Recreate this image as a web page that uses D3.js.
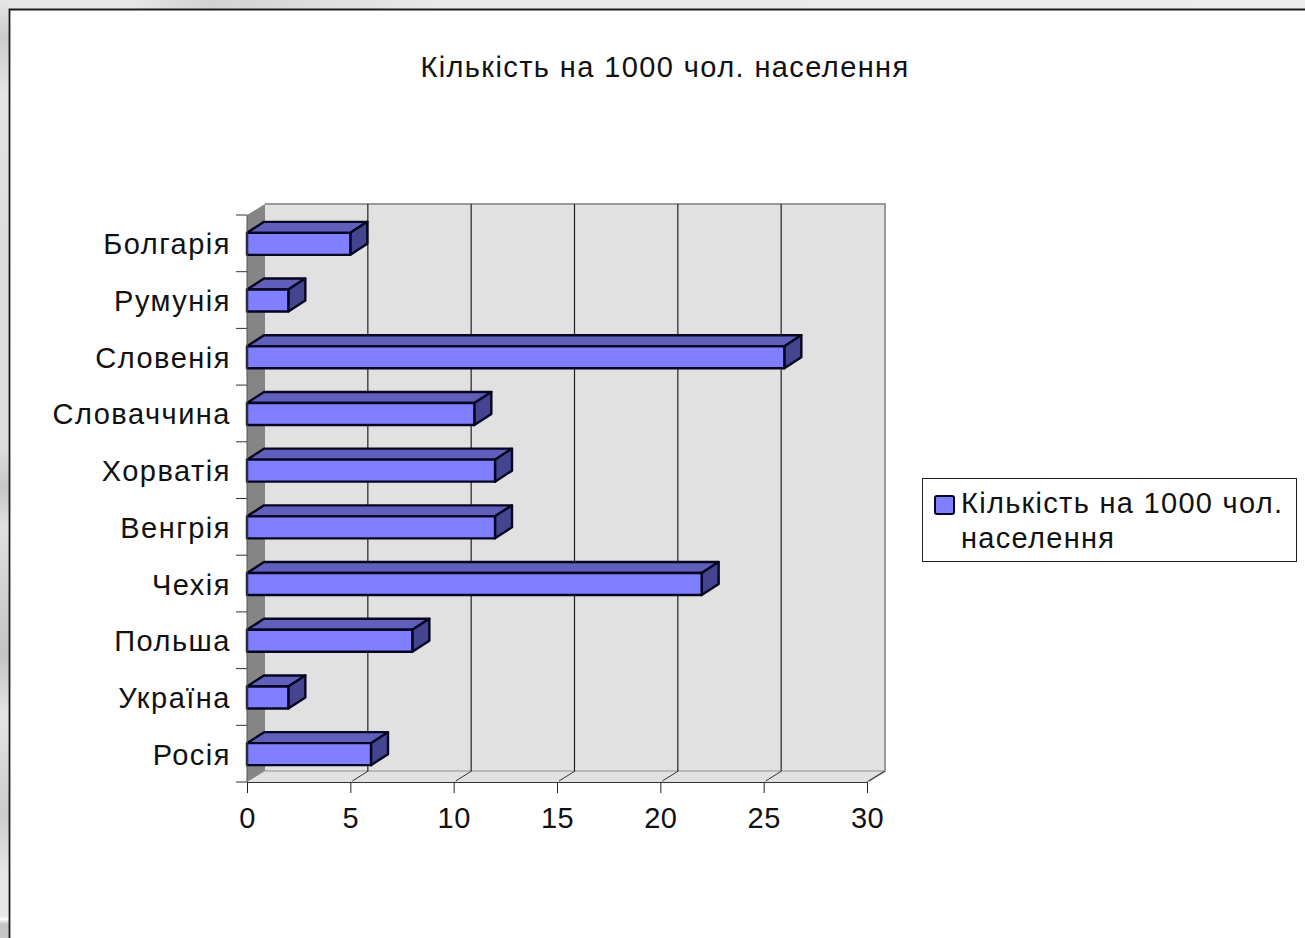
<!DOCTYPE html>
<html lang="uk">
<head>
<meta charset="utf-8">
<title>Кількість на 1000 чол. населення</title>
<script src="https://cdn.jsdelivr.net/npm/d3@7/dist/d3.min.js"></script>
<style>
html,body{margin:0;padding:0;background:#fff;overflow:hidden}
svg{display:block}
text{font-family:"Liberation Sans",Arial,sans-serif;fill:#111}
</style>
</head>
<body>
<svg id="chart" width="1305" height="938"></svg>
<script>
const categories = ["Болгарія","Румунія","Словенія","Словаччина","Хорватія","Венгрія","Чехія","Польша","Україна","Росія"];
const values = [5,2,26,11,12,12,22,8,2,6];
const xTicks = [0,5,10,15,20,25,30];
const title = "Кількість на 1000 чол. населення";
const legendLines = ["Кількість на 1000 чол.","населення"];

const svg = d3.select("#chart");

// window frame around the chart sheet
const defs = svg.append("defs");
const leftGrad = defs.append("linearGradient").attr("id","leftGrad").attr("x1",0).attr("y1",0).attr("x2",0).attr("y2",1);
[[0,"#e6e6e6"],[0.04,"#cccccc"],[0.1,"#e4e4e4"],[0.25,"#dddddd"],[0.48,"#dcdcdc"],[0.52,"#c6c6c6"],[0.56,"#e0e0e0"],[0.7,"#c4c4c4"],[0.76,"#e4e4e4"],[0.87,"#cccccc"],[0.93,"#e6e6e6"],[0.977,"#e8e8e8"],[0.98,"#ffffff"],[0.985,"#c4c4c4"],[1,"#c8c8c8"]]
  .forEach(([o,c])=>leftGrad.append("stop").attr("offset",o).attr("stop-color",c));
const topGrad = defs.append("linearGradient").attr("id","topGrad");
[[0,"#e6e6e6"],[0.1,"#e6e6e6"],[0.16,"#d2d2d2"],[0.25,"#dedede"],[0.33,"#e8e8e8"],[1,"#ececec"]]
  .forEach(([o,c])=>topGrad.append("stop").attr("offset",o).attr("stop-color",c));
svg.append("rect").attr("width",1305).attr("height",10).attr("fill","url(#topGrad)");
svg.append("rect").attr("width",9).attr("height",938).attr("fill","url(#leftGrad)");
svg.append("path").attr("d","M9.5,938V9.5H1305").attr("fill","none").attr("stroke","#1c1c1c").attr("stroke-width",1.8);

// plot geometry: front plane plus the receding depth of the 3D box
const depth = {x:18, y:-11};
const barDepth = {x:17, y:-11};
const x = d3.scaleLinear().domain([0,30]).range([247,867]);
const y = d3.scaleBand().domain(categories).range([215,782]);
const barH = 22;
const left = x(0), right = x(30), top0 = y.range()[0], bottom = y.range()[1];

const poly = pts => "M"+pts.map(p=>p.join(",")).join("L")+"Z";

// back wall, floor and side wall
svg.append("path").attr("d",poly([[left+depth.x,top0+depth.y],[right+depth.x,top0+depth.y],[right+depth.x,bottom+depth.y],[left+depth.x,bottom+depth.y]]))
  .attr("fill","#e1e1e1").attr("stroke","none");
svg.append("path").attr("d",poly([[left,bottom],[left+depth.x,bottom+depth.y],[right+depth.x,bottom+depth.y],[right,bottom]]))
  .attr("fill","#e1e1e1");
svg.append("path").attr("d",poly([[left,top0],[left+depth.x,top0+depth.y],[left+depth.x,bottom+depth.y],[left,bottom]]))
  .attr("fill","#858585");
svg.append("path")
  .attr("d",`M${left+depth.x},${top0+depth.y}H${right+depth.x}V${bottom+depth.y}L${right},${bottom}`)
  .attr("fill","none").attr("stroke","#999").attr("stroke-width",2);
svg.append("line").attr("x1",left+depth.x).attr("x2",right+depth.x).attr("y1",bottom+depth.y).attr("y2",bottom+depth.y)
  .attr("stroke","#aaa").attr("stroke-width",1.5);

// gridlines run up the back wall and slant across the floor
svg.append("g").selectAll("path").data(xTicks.slice(1,-1)).join("path")
  .attr("d",d=>`M${x(d)+depth.x-0.5},${top0+depth.y}V${bottom+depth.y}`)
  .attr("fill","none").attr("stroke","#222").attr("stroke-width",1.2);
svg.append("g").selectAll("path").data(xTicks.slice(1)).join("path")
  .attr("d",d=>`M${x(d)+depth.x},${bottom+depth.y}L${x(d)+2},${bottom-1}`)
  .attr("fill","none").attr("stroke","#333").attr("stroke-width",1);

// bars: top face, side face, front face
const bars = svg.append("g").selectAll("g").data(categories.map((c,i)=>({c,v:values[i]}))).join("g");
const fy = d => y(d.c)+y.bandwidth()/2-barH/2+0.5;
bars.append("path").attr("d",d=>poly([[left,fy(d)],[left+barDepth.x,fy(d)+barDepth.y],[x(d.v)+barDepth.x,fy(d)+barDepth.y],[x(d.v),fy(d)]]))
  .attr("fill","#6060bc");
bars.append("path").attr("d",d=>poly([[x(d.v),fy(d)],[x(d.v)+barDepth.x,fy(d)+barDepth.y],[x(d.v)+barDepth.x,fy(d)+barDepth.y+barH],[x(d.v),fy(d)+barH]]))
  .attr("fill","#444490");
bars.append("rect").attr("x",left).attr("y",fy).attr("width",d=>x(d.v)-left).attr("height",barH)
  .attr("fill","#7f7fff");
bars.selectAll("path,rect").attr("stroke","#060620").attr("stroke-width",2.4).attr("stroke-linejoin","round");

// axes on the front plane
const axisX = svg.append("g").attr("transform",`translate(0,${bottom})`).call(d3.axisBottom(x).tickValues(xTicks).tickSize(11).tickPadding(14));
axisX.select(".domain").attr("stroke","#333").attr("stroke-width",1);
axisX.selectAll(".tick line").attr("stroke","#222");
axisX.selectAll("text").attr("font-size",29).attr("letter-spacing",0.5).style("font-family",'"Liberation Sans",Arial,sans-serif').attr("fill","#111");

const yEdges = categories.map(c=>y(c)).concat(bottom);
svg.append("g").selectAll("line").data(yEdges).join("line")
  .attr("x1",left-11).attr("x2",left).attr("y1",d=>d).attr("y2",d=>d).attr("stroke","#333");
svg.append("line").attr("x1",left).attr("x2",left).attr("y1",top0).attr("y2",bottom).attr("stroke","#555");

svg.append("g").selectAll("text").data(categories).join("text")
  .attr("x",231).attr("y",c=>y(c)+y.bandwidth()/2+11)
  .attr("text-anchor","end").attr("font-size",29).attr("letter-spacing",1.5).text(c=>c);

// heading
svg.append("text").attr("x",665).attr("y",77).attr("text-anchor","middle").attr("font-size",29).attr("letter-spacing",1.4).text(title);

// legend
svg.append("rect").attr("x",922.5).attr("y",478.5).attr("width",374).attr("height",83).attr("fill","#fff").attr("stroke","#222");
svg.append("rect").attr("x",935).attr("y",496).attr("width",19).attr("height",18).attr("rx",2).attr("fill","#7f7fff").attr("stroke","#060620").attr("stroke-width",2);
svg.append("g").selectAll("text").data(legendLines).join("text")
  .attr("x",961).attr("y",(d,i)=>513+i*35).attr("font-size",29).attr("letter-spacing",1.3).text(d=>d);
</script>
</body>
</html>
